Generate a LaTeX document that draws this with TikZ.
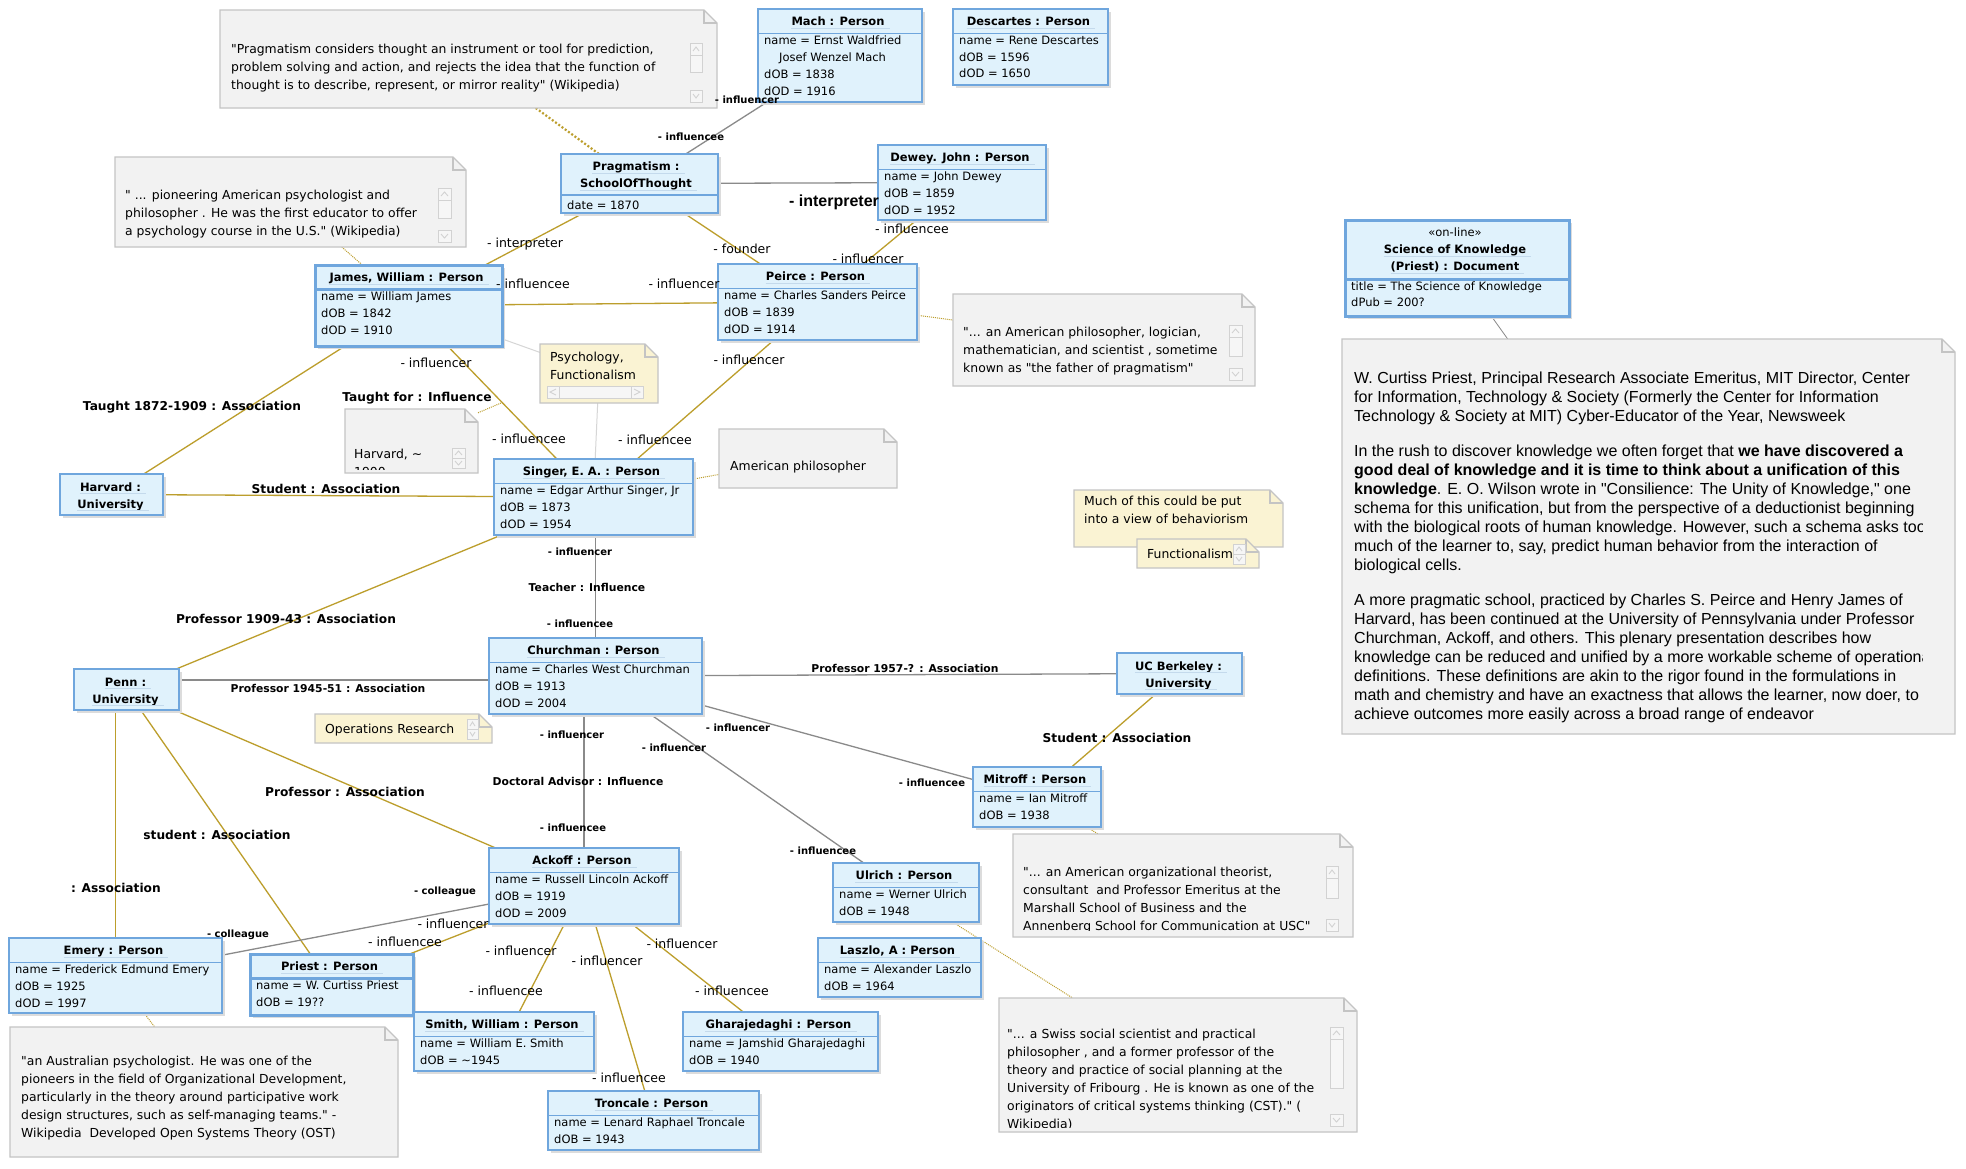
\documentclass[tikz,border=0pt]{standalone}
\usepackage{fontspec}
\setmainfont{DejaVu Sans}[Ligatures=TeXOff]
\newfontfamily\libsans{Liberation Sans}[Ligatures=TeXOff]
\pgfdeclarelayer{back}
\pgfdeclarelayer{edges}
\pgfsetlayers{back,edges,main}
\definecolor{boxfill}{HTML}{E0F2FC}
\definecolor{boxline}{HTML}{6FA6DD}
\definecolor{ulcol}{HTML}{C4DAEC}
\definecolor{shadowc}{HTML}{DCDCDC}
\definecolor{notefill}{HTML}{F2F2F2}
\definecolor{noteline}{HTML}{C4C4C4}
\definecolor{ynotefill}{HTML}{FAF3D3}
\definecolor{gold}{HTML}{BC9E2C}
\definecolor{grayline}{HTML}{8A8A8A}
\definecolor{lgray}{HTML}{D6D6D6}
\definecolor{scrl}{HTML}{D2D2D2}
\definecolor{scrf}{HTML}{F6F6F6}
\newcommand\qq{\symbol{34}}
\newcommand\fAttr{\fontsize{11.5}{16.8}\selectfont}
\newcommand\fHdr{\fontsize{11.5}{16.8}\selectfont\bfseries}
\newcommand\fNote{\fontsize{12.4}{18}\selectfont}
\newcommand\fRole{\fontsize{12.5}{15}\selectfont}
\newcommand\fRoleB{\fontsize{10}{12}\selectfont\bfseries}
\newcommand\fAssoc{\fontsize{12.2}{14}\selectfont\bfseries}
\newcommand\fAssocS{\fontsize{10.8}{13}\selectfont\bfseries}
\newcommand\fBigRole{\libsans\fontsize{16}{19}\selectfont\bfseries}
\newcommand\fBig{\libsans\fontsize{16}{19}\selectfont}
\tikzset{
  objbox/.style={draw=boxline,fill=boxfill,line width=1.5pt,inner sep=0pt,outer sep=0pt},
  selbox/.style={line width=3pt},
  sepline/.style={draw=boxline,line width=1.5pt},
  uline/.style={draw=ulcol,line width=1pt},
  hdr/.style={anchor=base,inner sep=0pt,font=\fHdr},
  attr/.style={anchor=north west,inner sep=0pt,align=left,font=\fAttr,execute at begin node=\strut},
  notetxt/.style={anchor=north west,inner sep=0pt,align=left,font=\fNote,execute at begin node=\strut},
  bigtxt/.style={anchor=north west,inner sep=0pt,align=left,font=\fBig,execute at begin node=\strut},
  gnote/.style={fill=notefill,draw=noteline,line width=1.2pt},
  ynote/.style={fill=ynotefill,draw=noteline,line width=1.2pt},
  scroll/.style={fill=scrf,draw=scrl,line width=0.8pt},
  chev/.style={draw=scrl,line width=0.9pt},
  rl/.style={anchor=base,inner sep=0pt,font=\fRole},
  rb/.style={anchor=base,inner sep=0pt,font=\fRoleB},
  asl/.style={anchor=base,inner sep=0pt,font=\fAssoc},
  ass/.style={anchor=base,inner sep=0pt,font=\fAssocS},
  gdline/.style={draw=gold,line width=1.3pt},
  grline/.style={draw=grayline,line width=1.3pt},
  lgline/.style={draw=lgray,line width=1pt},
  dotl/.style={draw=gold,line width=1pt,dash pattern=on 1pt off 1pt},
}
\newcommand\personbox[8][]{%
  \pgfmathsetmacro\cxx{(#3+#5)/2}%
  \pgfmathsetmacro\cyy{(#4+#6)/2}%
  \pgfmathsetmacro\bww{#5-#3}%
  \pgfmathsetmacro\bhh{#6-#4}%
  \fill[shadowc] (#3+3,#4+3) rectangle (#5+3,#6+3);
  \node[objbox,#1,minimum width=\bww pt,minimum height=\bhh pt] (#2) at (\cxx,\cyy) {};
  \draw[sepline,#1] (#3,#4+24.5) -- (#5,#4+24.5);
  \node[hdr] (#2-h) at (\cxx-2,#4+16.5) {#7};
  \draw[uline] ([yshift=-2.5pt]#2-h.base west) -- ([yshift=-2.5pt,xshift=5pt]#2-h.base east);
  \node[attr] (#2-a) at (#3+6,#4+26.7) {#8};
}
\newcommand\univ[7]{%
  \pgfmathsetmacro\cxx{(#2+#4)/2}%
  \pgfmathsetmacro\cyy{(#3+#5)/2}%
  \pgfmathsetmacro\bww{#4-#2}%
  \pgfmathsetmacro\bhh{#5-#3}%
  \fill[shadowc] (#2+3,#3+3) rectangle (#4+3,#5+3);
  \node[objbox,minimum width=\bww pt,minimum height=\bhh pt] (#1) at (\cxx,\cyy) {};
  \node[hdr] (#1-h1) at (\cxx-1,#3+17) {#6};
  \draw[uline] ([yshift=-2.5pt]#1-h1.base west) -- ([yshift=-2.5pt,xshift=5pt]#1-h1.base east);
  \node[hdr] (#1-h2) at (\cxx-1,#3+34) {#7};
  \draw[uline] ([yshift=-2.5pt]#1-h2.base west) -- ([yshift=-2.5pt,xshift=5pt]#1-h2.base east);
}
\newcommand\notebox[6][gnote]{%
  \pgfmathsetmacro\cxx{(#3+#5)/2}%
  \pgfmathsetmacro\cyy{(#4+#6)/2}%
  \pgfmathsetmacro\bww{#5-#3}%
  \pgfmathsetmacro\bhh{#6-#4}%
  \node[inner sep=0pt,outer sep=0pt,minimum width=\bww pt,minimum height=\bhh pt] (#2) at (\cxx,\cyy) {};
  \filldraw[#1] (#3,#4) -- (#5-13,#4) -- (#5,#4+13) -- (#5,#6) -- (#3,#6) -- cycle;
  \draw[#1,fill=none] (#5-13,#4) -- (#5-13,#4+13) -- (#5,#4+13);
}
\newcommand\vscroll[5]{%
  \filldraw[scroll] (#1,#3) rectangle (#2,#3+12);
  \draw[chev] (#1+3,#3+8) -- ({(#1+#2)/2},#3+4) -- (#2-3,#3+8);
  \filldraw[scroll] (#1,#3+12) rectangle (#2,#4);
  \filldraw[scroll] (#1,#5) rectangle (#2,#5+12);
  \draw[chev] (#1+3,#5+4) -- ({(#1+#2)/2},#5+8) -- (#2-3,#5+4);
}
\newcommand\spinner[3]{%
  \filldraw[scroll] (#1,#3) rectangle (#2,#3+10);
  \draw[chev] (#1+3,#3+7) -- ({(#1+#2)/2},#3+3) -- (#2-3,#3+7);
  \filldraw[scroll] (#1,#3+10) rectangle (#2,#3+20);
  \draw[chev] (#1+3,#3+13) -- ({(#1+#2)/2},#3+17) -- (#2-3,#3+13);
}
\begin{document}
\begin{tikzpicture}[x=1pt,y=-1pt]
\begin{pgfonlayer}{back}
\fill[white] (0,0) rectangle (1966,1168);
\end{pgfonlayer}
\useasboundingbox (0,0) rectangle (1966,1168);

% ---------- notes ----------
\notebox{pragnote}{220}{10}{717}{108}
\node[notetxt] (pragnote-t) at (231,43.9) {\qq{}Pragmatism considers thought an instrument or tool for prediction,\\problem solving and action, and rejects the idea that the function of\\thought is to describe, represent, or mirror reality\qq{} (Wikipedia)};
\vscroll{690}{702}{43}{72}{90}

\notebox{jamesnote}{115}{157}{466}{247}
\node[notetxt] (jamesnote-t) at (125,189.9) {\qq{} ... pioneering American psychologist and\\philosopher . He was the first educator to offer\\a psychology course in the U.S.\qq{} (Wikipedia)};
\vscroll{438}{451}{188}{218}{230}

\notebox{peircenote}{953}{294}{1255}{386}
\node[notetxt] (peircenote-t) at (963,326.9) {\qq{}... an American philosopher, logician,\\mathematician, and scientist , sometime\\known as \qq{}the father of pragmatism\qq{}};
\vscroll{1229}{1242}{325}{356}{368}

\notebox{amphil}{719}{429}{897}{488}
\node[notetxt] (amphil-t) at (730,457.9) {American philosopher};

\notebox[ynote]{psych}{540}{344}{658}{403}
\node[notetxt] (psych-t) at (550,351.9) {Psychology,\\Functionalism};
\filldraw[scroll] (547,386) rectangle (559,398);
\draw[chev] (556,389) -- (550,392) -- (556,395);
\filldraw[scroll] (559,386) rectangle (631,398);
\filldraw[scroll] (631,386) rectangle (643,398);
\draw[chev] (634,389) -- (640,392) -- (634,395);

\notebox{harvnote}{345}{409}{478}{473}
\begin{scope}
\clip (346,410) rectangle (477,469.5);
\node[notetxt] (harvnote-t) at (354,448.9) {Harvard, \textasciitilde\\1900};
\end{scope}
\spinner{452}{465}{448}

\notebox[ynote]{behav}{1074}{490}{1283}{547}
\node[notetxt] (behav-t) at (1084,495.9) {Much of this could be put\\into a view of behaviorism};
\notebox[ynote]{func}{1137}{539}{1259}{568}
\node[notetxt] (func-t) at (1147,545.9) {Functionalism};
\spinner{1233}{1245}{544}

\notebox[ynote]{opres}{315}{714}{492}{743}
\node[notetxt] (opres-t) at (325,720.9) {Operations Research};
\spinner{467}{478}{719}

\notebox{mitnote}{1013}{834}{1353}{937}
\begin{scope}
\clip (1014,835) rectangle (1352,930);
\node[notetxt] (mitnote-t) at (1023,866.9) {\qq{}... an American organizational theorist,\\consultant \ and Professor Emeritus at the\\Marshall School of Business and the\\Annenberg School for Communication at USC\qq{}};
\end{scope}
\vscroll{1326}{1338}{866}{898}{919}

\notebox{emerynote}{10}{1027}{398}{1157}
\node[notetxt] (emerynote-t) at (21,1055.9) {\qq{}an Australian psychologist. He was one of the\\pioneers in the field of Organizational Development,\\particularly in the theory around participative work\\design structures, such as self-managing teams.\qq{} -\\Wikipedia \ Developed Open Systems Theory (OST)};

\notebox{ulrichnote}{999}{998}{1357}{1132}
\begin{scope}
\clip (1000,999) rectangle (1329,1127);
\node[notetxt] (ulrichnote-t) at (1007,1028.9) {\qq{}... a Swiss social scientist and practical\\philosopher , and a former professor of the\\theory and practice of social planning at the\\University of Fribourg . He is known as one of the\\originators of critical systems thinking (CST).\qq{} (\\Wikipedia)};
\end{scope}
\vscroll{1330}{1343}{1027}{1088}{1114}

\notebox{bignote}{1342}{339}{1955}{734}
\begin{scope}
\clip (1343,340) rectangle (1922,733);
\node[bigtxt] (big-p1) at (1354,371.2) {W. Curtiss Priest, Principal Research Associate Emeritus, MIT Director, Center\\for Information, Technology \& Society (Formerly the Center for Information\\Technology \& Society at MIT) Cyber-Educator of the Year, Newsweek};
\node[bigtxt] (big-p2) at (1354,444.2) {In the rush to discover knowledge we often forget that \textbf{we have discovered a}\\\textbf{good deal of knowledge and it is time to think about a unification of this}\\\textbf{knowledge}. E. O. Wilson wrote in \qq{}Consilience: The Unity of Knowledge,\qq{} one\\schema for this unification, but from the perspective of a deductionist beginning\\with the biological roots of human knowledge. However, such a schema asks too\\much of the learner to, say, predict human behavior from the interaction of\\biological cells.};
\node[bigtxt] (big-p3) at (1354,593.2) {A more pragmatic school, practiced by Charles S. Peirce and Henry James of\\Harvard, has been continued at the University of Pennsylvania under Professor\\Churchman, Ackoff, and others. This plenary presentation describes how\\knowledge can be reduced and unified by a more workable scheme of operational\\definitions. These definitions are akin to the rigor found in the formulations in\\math and chemistry and have an exactness that allows the learner, now doer, to\\achieve outcomes more easily across a broad range of endeavor};
\end{scope}

% ---------- objects ----------
\personbox{mach}{758}{9}{922}{102}{Mach : Person}{name = Ernst Waldfried\\\hspace*{15pt}Josef Wenzel Mach\\dOB = 1838\\dOD = 1916}
\personbox{desc}{953}{9}{1108}{85}{Descartes : Person}{name = Rene Descartes\\dOB = 1596\\dOD = 1650}
\personbox{dewey}{878}{145}{1046}{220}{Dewey. John : Person}{name = John Dewey\\dOB = 1859\\dOD = 1952}
\personbox[selbox]{james}{315}{265}{502}{346}{James, William : Person}{name = William James\\dOB = 1842\\dOD = 1910}
\personbox{peirce}{718}{264}{917}{340}{Peirce : Person}{name = Charles Sanders Peirce\\dOB = 1839\\dOD = 1914}
\personbox{singer}{494}{459}{693}{535}{Singer, E. A. : Person}{name = Edgar Arthur Singer, Jr\\dOB = 1873\\dOD = 1954}
\personbox{chur}{489}{638}{702}{714}{Churchman : Person}{name = Charles West Churchman\\dOB = 1913\\dOD = 2004}
\personbox{mitroff}{973}{767}{1101}{827}{Mitroff : Person}{name = Ian Mitroff\\dOB = 1938}
\personbox{ackoff}{489}{848}{679}{924}{Ackoff : Person}{name = Russell Lincoln Ackoff\\dOB = 1919\\dOD = 2009}
\personbox{ulrich}{833}{863}{979}{922}{Ulrich : Person}{name = Werner Ulrich\\dOB = 1948}
\personbox{laszlo}{818}{938}{981}{997}{Laszlo, A : Person}{name = Alexander Laszlo\\dOB = 1964}
\personbox{emery}{9}{938}{222}{1013}{Emery : Person}{name = Frederick Edmund Emery\\dOB = 1925\\dOD = 1997}
\personbox[selbox]{priest}{250}{954}{413}{1015}{Priest : Person}{name = W. Curtiss Priest\\dOB = 19??}
\personbox{smith}{414}{1012}{594}{1071}{Smith, William : Person}{name = William E. Smith\\dOB = \textasciitilde1945}
\personbox{gharaj}{683}{1012}{878}{1071}{Gharajedaghi : Person}{name = Jamshid Gharajedaghi\\dOB = 1940}
\personbox{troncale}{548}{1091}{759}{1150}{Troncale : Person}{name = Lenard Raphael Troncale\\dOB = 1943}

\univ{harvard}{60}{474}{163}{515}{Harvard :}{University}
\univ{penn}{74}{669}{179}{710}{Penn :}{University}
\univ{berk}{1117}{653}{1242}{694}{UC Berkeley :}{University}

% Pragmatism
\fill[shadowc] (564,157) rectangle (721,216);
\node[objbox,minimum width=157pt,minimum height=59pt] (prag) at (639.5,183.5) {};
\node[hdr] (prag-h1) at (636,170.5) {Pragmatism :};
\draw[uline] ([yshift=-2.5pt]prag-h1.base west) -- ([yshift=-2.5pt,xshift=5pt]prag-h1.base east);
\node[hdr] (prag-h2) at (636,187.5) {SchoolOfThought};
\draw[uline] ([yshift=-2.5pt]prag-h2.base west) -- ([yshift=-2.5pt,xshift=5pt]prag-h2.base east);
\draw[sepline] (561,195) -- (718,195);
\node[attr] (prag-a) at (567,197.2) {date = 1870};

% Document
\fill[shadowc] (1348,223) rectangle (1572,319);
\node[objbox,selbox,minimum width=224pt,minimum height=96pt] (doc) at (1457,268) {};
\node[anchor=base,inner sep=0pt,font=\fAttr] (doc-s) at (1455,236.5) {«on-line»};
\node[hdr] (doc-h1) at (1455,253.5) {Science of Knowledge};
\draw[uline] ([yshift=-2.5pt]doc-h1.base west) -- ([yshift=-2.5pt,xshift=5pt]doc-h1.base east);
\node[hdr] (doc-h2) at (1455,270.5) {(Priest) : Document};
\draw[uline] ([yshift=-2.5pt]doc-h2.base west) -- ([yshift=-2.5pt,xshift=5pt]doc-h2.base east);
\draw[sepline,selbox] (1345,279) -- (1569,279);
\node[attr] (doc-a) at (1351,281.2) {title = The Science of Knowledge\\dPub = 200?};

% ---------- labels ----------
\node[rb] (l1) at (747,103.5) {- influencer};
\node[rb] (l2) at (691,140.5) {- influencee};
\node[anchor=base,inner sep=0pt,font=\fBigRole] (l3) at (834,206.5) {- interpreter};
\node[rl] (l4) at (525,247.5) {- interpreter};
\node[rl] (l5) at (742,253.5) {- founder};
\node[rl] (l6) at (912,233.5) {- influencee};
\node[rl] (l7) at (868,263.5) {- influencer};
\node[rl] (l8) at (533,288.5) {- influencee};
\node[rl] (l9) at (684,288.5) {- influencer};
\node[rl] (l10) at (749,364.5) {- influencer};
\node[rl] (l11) at (655,444.5) {- influencee};
\node[rl] (l12) at (436,367.5) {- influencer};
\node[rl] (l13) at (529,443.5) {- influencee};
\node[asl] (l14) at (417,401.5) {Taught for : Influence};
\node[asl] (l15) at (192,410.5) {Taught 1872-1909 : Association};
\node[asl] (l16) at (326,493.5) {Student : Association};
\node[asl] (l17) at (286,623.5) {Professor 1909-43 : Association};
\node[ass] (l18) at (328,692) {Professor 1945-51 : Association};
\node[rb] (l19) at (580,555.5) {- influencer};
\node[ass] (l20) at (587,591) {Teacher : Influence};
\node[rb] (l21) at (580,627.5) {- influencee};
\node[ass] (l22) at (905,672) {Professor 1957-? : Association};
\node[rb] (l23) at (738,731.5) {- influencer};
\node[rb] (l24) at (932,786.5) {- influencee};
\node[asl] (l25) at (1117,742.5) {Student : Association};
\node[rb] (l26) at (674,751.5) {- influencer};
\node[rb] (l27) at (823,854.5) {- influencee};
\node[rb] (l28) at (572,738.5) {- influencer};
\node[ass] (l29) at (578,785) {Doctoral Advisor : Influence};
\node[rb] (l30) at (573,831.5) {- influencee};
\node[asl] (l31) at (345,796.5) {Professor : Association};
\node[asl] (l32) at (217,839.5) {student : Association};
\node[asl] (l33) at (116,892.5) {: Association};
\node[rb] (l34) at (445,894.5) {- colleague};
\node[rb] (l35) at (238,937.5) {- colleague};
\node[rl] (l36) at (453,928.5) {- influencer};
\node[rl] (l37) at (405,946.5) {- influencee};
\node[rl] (l38) at (521,955.5) {- influencer};
\node[rl] (l39) at (506,995.5) {- influencee};
\node[rl] (l40) at (607,965.5) {- influencer};
\node[rl] (l41) at (629,1082.5) {- influencee};
\node[rl] (l42) at (682,948.5) {- influencer};
\node[rl] (l43) at (732,995.5) {- influencee};

% ---------- connectors ----------
\begin{pgfonlayer}{edges}
\draw[gdline] (prag) -- (james);
\draw[gdline] (prag) -- (peirce);
\draw[gdline] (dewey) -- (peirce);
\draw[gdline] (james) -- (peirce);
\draw[gdline] (peirce) -- (singer);
\draw[gdline] (james) -- coordinate (tfmid) (singer);
\draw[gdline] (harvard) -- (james);
\draw[gdline] (harvard) -- (singer);
\draw[gdline] (penn) -- (singer);
\draw[gdline] (emery.north) -- (emery.north |- penn.south);
\draw[gdline] (penn) -- (priest);
\draw[gdline] (penn) -- (ackoff);
\draw[gdline] (berk) -- (mitroff);
\draw[gdline] (priest) -- (ackoff);
\draw[gdline] (ackoff) -- (smith);
\draw[gdline] (ackoff) -- (troncale);
\draw[gdline] (ackoff) -- (gharaj);
\draw[grline] (prag) -- (mach);
\draw[grline] (prag) -- (dewey);
\draw[grline] (chur.north) -- (chur.north |- singer.south);
\draw[grline] ([yshift=9.5pt]penn.east) -- ([yshift=-4pt]chur.west);
\draw[grline] (chur) -- (berk);
\draw[grline] (chur) -- (mitroff);
\draw[grline] (chur) -- (ulrich);
\draw[grline] (ackoff.north) -- (ackoff.north |- chur.south);
\draw[grline] (emery) -- (ackoff);
\draw[lgline] (james) -- (psych);
\draw[lgline] (psych) -- (singer);
\draw[draw=gold,line width=2.2pt,dash pattern=on 2pt off 2pt] (pragnote) -- (prag);
\draw[dotl] (jamesnote) -- (james);
\draw[dotl] (peirce) -- (peircenote);
\draw[dotl] (singer) -- (amphil);
\draw[dotl] (harvnote) -- (tfmid);
\draw[dotl] (mitroff) -- (mitnote);
\draw[dotl] (ulrich) -- (ulrichnote);
\draw[dotl] (emery) -- (emerynote);
\draw[draw=grayline,line width=0.8pt] (doc) -- (bignote);
\end{pgfonlayer}
\end{tikzpicture}
\end{document}
